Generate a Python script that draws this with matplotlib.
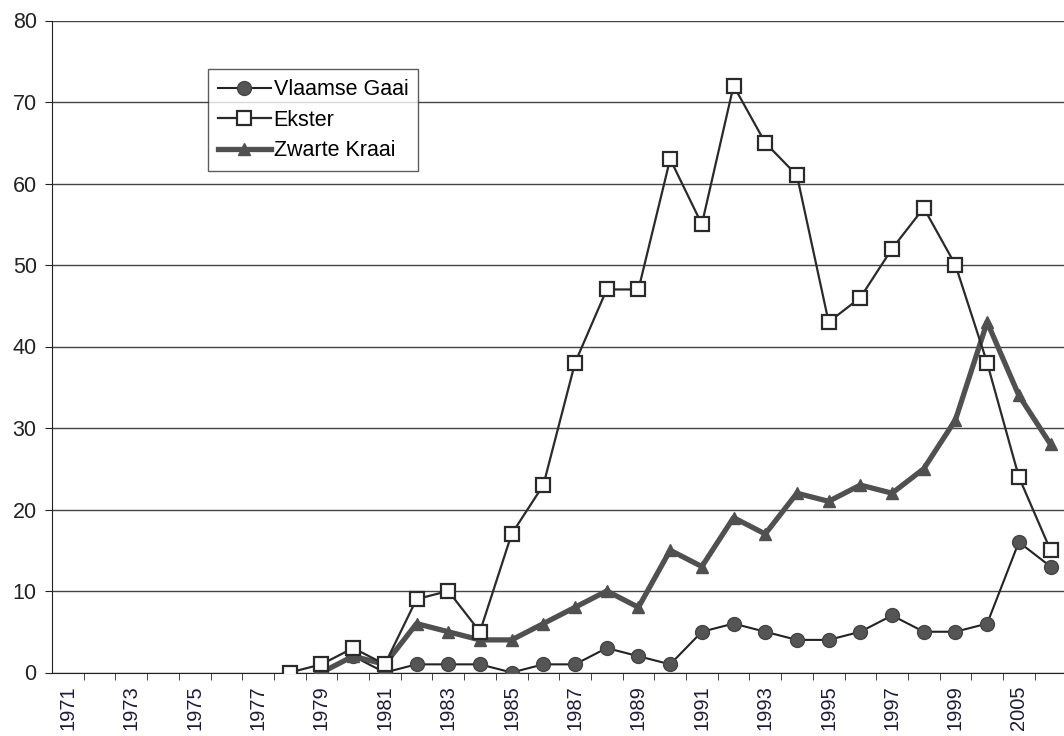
import matplotlib
matplotlib.use("Agg")
import matplotlib.pyplot as plt
import numpy as np
from matplotlib.ticker import FixedLocator

plt.rcParams["font.family"] = ["Liberation Sans", "DejaVu Sans"]

years = [str(y) for y in range(1971, 2001)] + ["2005", "2006"]

# None = no value for that year
vlaamse_gaai = [None] * 8 + [0, 2, 0, 1, 1, 1, 0, 1, 1, 3, 2, 1, 5, 6, 5, 4, 4, 5,
                             7, 5, 5, 6, 16, 13]
ekster = [None] * 7 + [0, 1, 3, 1, 9, 10, 5, 17, 23, 38, 47, 47, 63, 55, 72, 65, 61,
                       43, 46, 52, 57, 50, 38, 24, 15]
zwarte_kraai = [None] * 8 + [0, 2, 1, 6, 5, 4, 4, 6, 8, 10, 8, 15, 13, 19, 17, 22, 21,
                             23, 22, 25, 31, 43, 34, 28]


def to_arr(vals):
    return np.array([np.nan if v is None else v for v in vals], dtype=float)


x = np.arange(len(years))

fig = plt.figure(figsize=(10.64, 7.36), dpi=100)
ax = fig.add_axes([52 / 1064, 63.5 / 736, 1012 / 1064, 652 / 736])

ax.plot(x, to_arr(vlaamse_gaai), color="#222222", lw=1.5, marker="o",
        markersize=10, markerfacecolor="#555555", markeredgecolor="#444444",
        label="Vlaamse Gaai", zorder=3)
ax.plot(x, to_arr(ekster), color="#2a2a2a", lw=1.6, marker="s",
        markersize=10, markerfacecolor="white", markeredgecolor="#2a2a2a",
        markeredgewidth=1.6, label="Ekster", zorder=4)
ax.plot(x, to_arr(zwarte_kraai), color="#505050", lw=3.8, marker="^",
        markersize=9, markerfacecolor="#505050", markeredgecolor="#505050",
        label="Zwarte Kraai", zorder=3)

ax.set_xlim(-0.5, -0.5 + 1012 / 31.7)
ax.set_ylim(0, 80)
ax.set_yticks(range(0, 81, 10))
ax.tick_params(axis="y", labelsize=15.5, length=5, pad=6, direction="out",
               colors="#222222")
ax.grid(axis="y", color="#444444", lw=1.0)
ax.set_axisbelow(True)

ax.set_xticks(x[::2])
ax.set_xticklabels(years[::2], rotation=90, fontsize=14.5, color="#1c1c3a")
ax.tick_params(axis="x", which="major", length=0, pad=9)
ax.xaxis.set_minor_locator(FixedLocator(np.arange(len(years)) + 0.5))
ax.tick_params(axis="x", which="minor", length=5, direction="out", color="#222222")

for s in ["top", "right"]:
    ax.spines[s].set_visible(False)
ax.spines["left"].set_color("#222222")
ax.spines["bottom"].set_color("#222222")

leg = ax.legend(loc="upper left", bbox_to_anchor=(0.154, 0.925), fontsize=15.5,
                frameon=True, fancybox=False, handlelength=2.5, handletextpad=0.1,
                borderpad=0.45, labelspacing=0.45, borderaxespad=0)
leg.get_frame().set_edgecolor("#333333")
leg.get_frame().set_linewidth(1.0)

fig.savefig("out.png", dpi=100)
